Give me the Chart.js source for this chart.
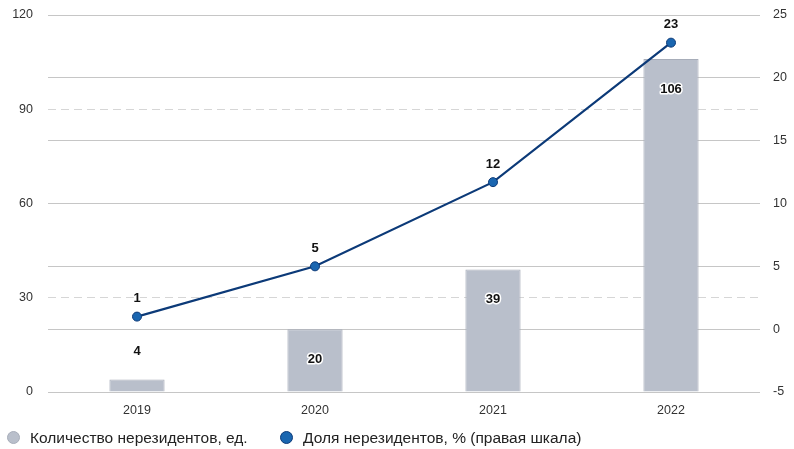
<!DOCTYPE html>
<html>
<head>
<meta charset="utf-8">
<script src="https://cdn.jsdelivr.net/npm/chart.js@4/dist/chart.umd.min.js"></script>
<style>
  html, body { margin: 0; padding: 0; background: #fff; }
  #wrap { position: relative; width: 794px; height: 449px; }
  #legend {
    position: absolute; left: 0; top: 428px;
    font: 15.5px "Liberation Sans", Arial, sans-serif; color: #222;
    white-space: nowrap;
  }
  .item { position: absolute; top: 0; line-height: 20px; }
  .dot {
    position: absolute; top: 3px; left: 0; width: 13px; height: 13px;
    border-radius: 50%; box-sizing: border-box;
  }
  .lbl { position: absolute; top: 0; left: 23px; }
</style>
</head>
<body>
<div id="wrap">
  <canvas id="myChart" width="794" height="449"></canvas>
  <div id="legend"></div>
</div>
<script>
const years = ['2019', '2020', '2021', '2022'];
const countValues = [4, 20, 39, 106];
const shareValues = [1, 5, 11.7, 22.8];
const shareLabels = ['1', '5', '12', '23'];
const leftTicks = [0, 30, 60, 90, 120];
const rightTicks = [-5, 0, 5, 10, 15, 20, 25];
const seriesNames = ['Количество нерезидентов, ед.', 'Доля нерезидентов, % (правая шкала)'];

const FONT = '"Liberation Sans", Arial, sans-serif';

// value labels drawn by hand, no datalabels plugin here
const valueLabels = {
    id: 'valueLabels',
    afterDatasetsDraw(chart) {
        const ctx = chart.ctx;
        ctx.save();
        ctx.font = 'bold 13px ' + FONT;
        ctx.textAlign = 'center';
        ctx.textBaseline = 'middle';
        ctx.lineJoin = 'round';
        ctx.lineWidth = 3;
        ctx.strokeStyle = '#ffffff';
        ctx.fillStyle = '#111111';

        const barMeta = chart.getDatasetMeta(0);
        barMeta.data.forEach((bar, i) => {
            const h = bar.base - bar.y;
            let y = h > 45 ? bar.y + 30 : bar.y - 28;
            const txt = String(countValues[i]);
            ctx.strokeText(txt, bar.x, y);
            ctx.fillText(txt, bar.x, y);
        });

        const lineMeta = chart.getDatasetMeta(1);
        lineMeta.data.forEach((pt, i) => {
            const txt = shareLabels[i];
            ctx.strokeText(txt, pt.x, pt.y - 18);
            ctx.fillText(txt, pt.x, pt.y - 18);
        });
        ctx.restore();
    }
};

const ctx = document.getElementById('myChart').getContext('2d');
const myChart = new Chart(ctx, {
    type: 'bar',
    data: {
        labels: years,
        datasets: [
            {
                type: 'bar',
                label: seriesNames[0],
                data: countValues,
                yAxisID: 'y',
                backgroundColor: '#b9bfcb',
                borderColor: '#a7adb9',
                borderWidth: 1,
                categoryPercentage: 1,
                barPercentage: 0.31,
                order: 2
            },
            {
                type: 'line',
                label: seriesNames[1],
                data: shareValues,
                yAxisID: 'y1',
                borderColor: '#0c3a78',
                borderWidth: 2.2,
                backgroundColor: '#1a66b0',
                pointBackgroundColor: '#1a66b0',
                pointBorderColor: '#0c3a78',
                pointBorderWidth: 1,
                pointRadius: 4.5,
                tension: 0,
                order: 1
            }
        ]
    },
    options: {
        responsive: false,
        animation: false,
        layout: { padding: { top: 15, left: 0, right: 0, bottom: 31 } },
        scales: {
            x: {
                afterFit: axis => { axis.height = 26; },
                grid: { display: false, drawTicks: false },
                border: { display: false },
                ticks: {
                    color: '#333',
                    font: { size: 12.5, family: FONT },
                    padding: 11
                }
            },
            y: {
                position: 'left',
                min: 0,
                max: 120,
                afterBuildTicks: axis => { axis.ticks = leftTicks.map(v => ({ value: v })); },
                afterFit: axis => { axis.width = 48; },
                grid: { color: '#d6d6d6', drawTicks: true, tickLength: 9, tickColor: 'rgba(0,0,0,0)', lineWidth: 1 },
                border: { display: false, dash: [8, 5] },
                ticks: {
                    color: '#333',
                    font: { size: 12.5, family: FONT },
                    padding: 6
                }
            },
            y1: {
                position: 'right',
                min: -5,
                max: 25,
                afterBuildTicks: axis => { axis.ticks = rightTicks.map(v => ({ value: v })); },
                afterFit: axis => { axis.width = 34; },
                grid: { color: '#c6c6c6', drawTicks: true, tickLength: 7, tickColor: 'rgba(0,0,0,0)', lineWidth: 1 },
                border: { display: false },
                ticks: {
                    color: '#333',
                    font: { size: 12.5, family: FONT },
                    padding: 6
                }
            }
        },
        plugins: {
            legend: { display: false },
            tooltip: { enabled: false }
        }
    },
    plugins: [valueLabels]
});

// legend below the chart
const legendEl = document.getElementById('legend');
const legendItems = [
    { name: seriesNames[0], fill: '#b9bfcb', border: '#a7adb9', left: 7 },
    { name: seriesNames[1], fill: '#1a66b0', border: '#0c3a78', left: 280 }
];
legendItems.forEach(it => {
    const d = document.createElement('div');
    d.className = 'item';
    d.style.left = it.left + 'px';
    d.innerHTML = '<span class="dot" style="background:' + it.fill + ';border:1px solid ' + it.border +
        '"></span><span class="lbl">' + it.name + '</span>';
    legendEl.appendChild(d);
});
</script>
</body>
</html>
